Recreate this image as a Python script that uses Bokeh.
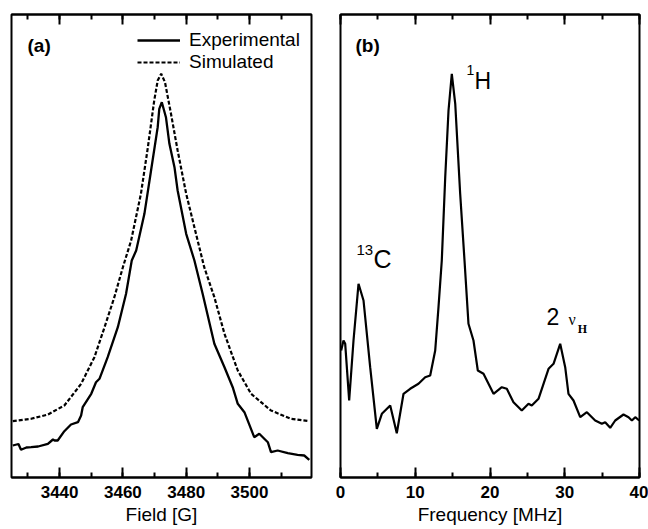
from bokeh.plotting import figure
from bokeh.layouts import row
from bokeh.models import (LinearAxis, SingleIntervalTicker, Label, Legend, LegendItem,
                          Range1d, CustomJSTickFormatter)
from bokeh.embed import file_html
from bokeh.resources import INLINE

FONT = "Liberation Sans"

# ---------------- Panel (a): EPR field sweep ----------------
field_exp = [3425.2, 3427.0, 3427.8, 3429.5, 3431.0, 3433.2, 3436.3, 3437.9, 3438.4, 3439.4,
             3441.5, 3443.6, 3445.8, 3446.8, 3447.3, 3450.0, 3451.5, 3452.6, 3455.2, 3458.4,
             3461.0, 3462.8, 3464.2, 3466.8, 3468.9, 3471.0, 3471.5, 3472.3, 3473.6, 3474.7,
             3476.3, 3477.3, 3480.0, 3482.6, 3485.2, 3488.9, 3492.1, 3494.7, 3496.3, 3498.4,
             3501.5, 3503.1, 3505.8, 3506.8, 3508.9, 3512.1, 3515.2, 3517.3, 3518.9]
int_exp = [32, 33.5, 27.7, 30, 30.3, 31, 33.7, 38, 37, 37,
           46.3, 53, 55.3, 62, 70.3, 83.7, 95.3, 98.7, 120.3, 150.3,
           183.7, 217, 227, 263.7, 307, 350.3, 368.7, 375.3, 360.3, 333.7,
           310.3, 287, 243.7, 217, 183.7, 133.7, 110.3, 90.3, 73.7, 65.3,
           40.3, 43.7, 35.3, 25.3, 27, 24.3, 22.7, 22, 17.7]

field_sim = [3425.2, 3431.0, 3436.3, 3441.5, 3446.8, 3451.0, 3454.2, 3457.3, 3460.0, 3462.6,
             3465.7, 3467.9, 3469.9, 3471.0, 3472.1, 3473.3, 3475.2, 3477.3, 3480.0, 3483.1,
             3485.7, 3488.9, 3492.1, 3496.3, 3500.5, 3506.8, 3513.1, 3518.9]
int_sim = [56.3, 58.7, 63, 72, 93.7, 120.3, 150.3, 180.3, 210.3, 237,
           283.7, 330.3, 377, 397, 403.7, 395.3, 363.7, 327, 283.7, 243.7,
           210.3, 180.3, 143.7, 107, 83.7, 67, 58.7, 56.3]

# ---------------- Panel (b): ENDOR spectrum ----------------
freq = [0.09, 0.40, 0.63, 1.16, 1.74, 2.41, 3.08, 3.97, 4.86, 5.53,
        6.65, 7.53, 8.43, 9.32, 10.43, 11.33, 12.00, 12.67, 13.11, 13.55,
        14.01, 14.45, 14.89, 15.35, 16.01, 16.59, 17.12, 17.79, 18.37, 19.13,
        20.47, 21.58, 22.25, 23.14, 24.25, 25.15, 25.59, 26.49, 27.16, 27.83,
        28.50, 29.39, 30.06, 30.50, 31.17, 32.07, 32.96, 34.07, 34.96, 35.41,
        36.08, 36.75, 37.86, 38.53, 38.98, 39.43, 39.96]
endor = [127, 137, 133.7, 77, 137, 193.7, 177, 110.3, 48.7, 63.7,
         72, 44.3, 83.7, 88.7, 93.7, 100.3, 102, 127, 170.3, 217,
         300.3, 367, 403.7, 373.7, 283.7, 217, 153.7, 137, 107, 103.7,
         83.7, 90.3, 88.7, 75.3, 67, 73.7, 72, 78.7, 93.7, 108.7,
         113.7, 133.7, 110.3, 83.7, 77, 60.3, 65.3, 57, 53.7, 55.3,
         49.7, 57, 63, 60.3, 57, 60.3, 57]

field_range = (3424.8, 3519.6)
freq_range = (0, 40)
y_range = (0, 463)


def style(p, interval, label):
    p.outline_line_color = "black"
    p.outline_line_width = 2
    p.outline_line_alpha = 1
    p.xgrid.visible = False
    p.ygrid.visible = False
    p.background_fill_color = "white"
    p.border_fill_color = "white"
    ax = p.below[0]
    ax.ticker = SingleIntervalTicker(interval=interval, num_minor_ticks=2)
    ax.major_tick_in = 10
    ax.major_tick_out = 0
    ax.minor_tick_in = 5
    ax.minor_tick_out = 0
    ax.major_tick_line_width = 2
    ax.minor_tick_line_width = 2
    ax.axis_line_width = 2
    ax.major_label_text_font = FONT
    ax.major_label_text_font_style = "bold"
    ax.major_label_text_font_size = "17px"
    ax.major_label_text_color = "black"
    ax.major_label_standoff = 8
    ax.axis_label = label
    ax.axis_label_text_font = FONT
    ax.axis_label_text_font_style = "normal"
    ax.axis_label_text_font_size = "19px"
    ax.axis_label_text_color = "black"
    ax.axis_label_standoff = 3
    top = LinearAxis(ticker=SingleIntervalTicker(interval=interval, num_minor_ticks=2),
                     formatter=CustomJSTickFormatter(code="return ''"))
    top.major_tick_in = 10
    top.major_tick_out = 0
    top.minor_tick_in = 5
    top.minor_tick_out = 0
    top.major_tick_line_width = 2
    top.minor_tick_line_width = 2
    top.axis_line_width = 2
    top.major_label_text_font_size = "0px"
    top.major_label_standoff = 0
    top.axis_label_standoff = 0
    top.axis_label_text_font_size = "0px"
    p.add_layout(top, "above")


def text(p, x, y, s, size, font=FONT, style="normal", units="data"):
    # y is the wanted baseline; small correction for how the label box is anchored
    fs = float(size.replace("px", ""))
    p.add_layout(Label(x=x, y=y + 0.37 * fs, x_units=units, y_units=units, text=s,
                       text_font=font, text_font_style=style,
                       text_font_size=size, text_color="black",
                       text_baseline="alphabetic"))


# ---- figure (a)
p1 = figure(width=328, height=529, output_backend="svg", toolbar_location=None,
            x_range=Range1d(*field_range), y_range=Range1d(*y_range),
            y_axis_location=None, min_border_left=11, min_border_right=17,
            min_border_top=14, min_border_bottom=52)
style(p1, 20, "Field [G]")
r_exp = p1.line(field_exp, int_exp, line_color="black", line_width=2.3)
r_sim = p1.line(field_sim, int_sim, line_color="black", line_width=2.2, line_dash="4 2")
leg = Legend(items=[LegendItem(label="Experimental", renderers=[r_exp]),
                    LegendItem(label="Simulated", renderers=[r_sim])],
             location=(126, 404), orientation="vertical",
             border_line_alpha=0, background_fill_alpha=0,
             label_text_font=FONT, label_text_font_size="19px",
             label_text_color="black",
             glyph_width=43, glyph_height=20, label_height=20, label_standoff=9,
             spacing=-2, padding=0, margin=0)
p1.add_layout(leg)
text(p1, 16, 425, "(a)", "19px", style="bold", units="screen")

# ---- figure (b)
p2 = figure(width=320, height=529, output_backend="svg", toolbar_location=None,
            x_range=Range1d(*freq_range), y_range=Range1d(*y_range),
            y_axis_location=None, min_border_left=12, min_border_right=9,
            min_border_top=14, min_border_bottom=52)
style(p2, 10, "Frequency [MHz]")
p2.line(freq, endor, line_color="black", line_width=2.2)
text(p2, 15, 425, "(b)", "19px", style="bold", units="screen")
text(p2, 16.86, 402, "1", "14px")
text(p2, 17.93, 388, "H", "23px")
text(p2, 2.14, 222, "13", "15px")
text(p2, 4.41, 209, "C", "25px")
text(p2, 27.56, 152, "2", "23px")
text(p2, 30.5, 152, "ν", "16px", font="Liberation Serif")
text(p2, 31.75, 144, "H", "12px", font="Liberation Serif", style="bold")

layout = row(p1, p2)
open("out.html", "w").write(file_html(layout, INLINE))
